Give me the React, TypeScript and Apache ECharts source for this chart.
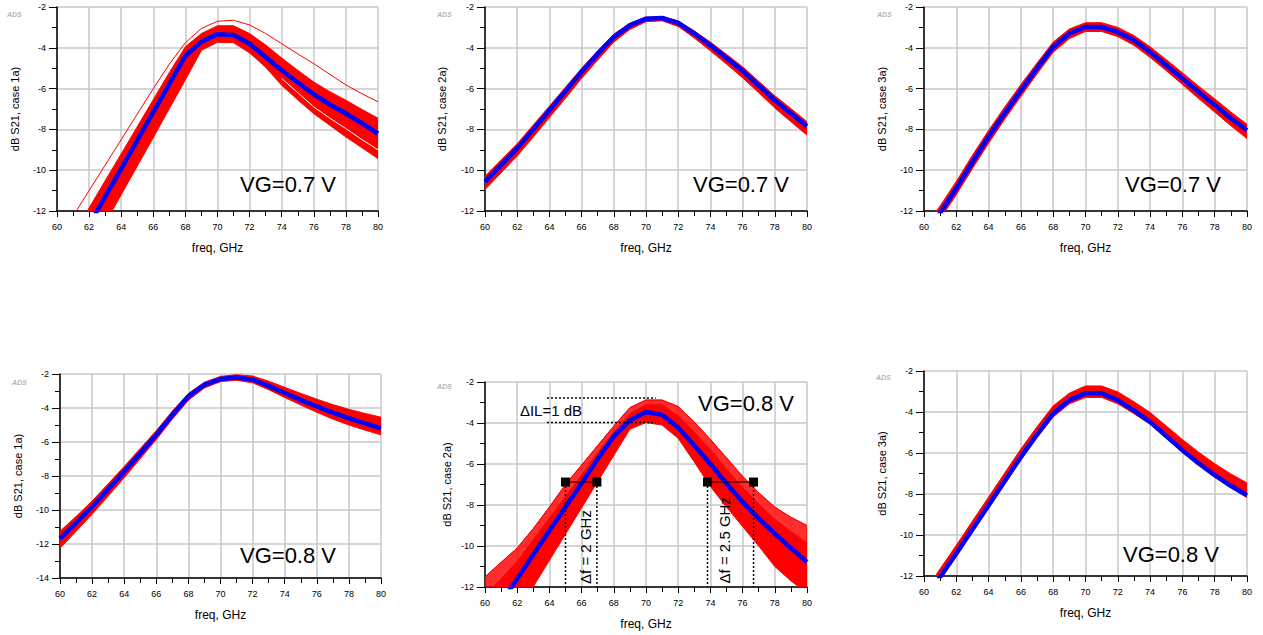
import React, { useEffect, useRef } from "react";
import * as echarts from "echarts";

// ---------------- data ----------------
const FREQ = [60, 61, 62, 63, 64, 65, 66, 67, 68, 69, 70, 71, 72, 73, 74, 75, 76, 77, 78, 79, 80];

// panel 1: case 1a, VG=0.7 V
const P1_BLUE = [-15.5, -14.1, -12.7, -11.3, -9.93, -8.54, -7.15, -5.77, -4.4, -3.7, -3.33, -3.37, -3.8, -4.45, -5.1, -5.7, -6.28, -6.78, -7.22, -7.7, -8.2];
const P1_HIGH = [-14.5, -13.15, -11.85, -10.52, -9.2, -7.87, -6.54, -5.21, -3.95, -3.3, -2.92, -2.92, -3.3, -3.86, -4.5, -5.1, -5.68, -6.15, -6.57, -7.02, -7.45];
const P1_LOW = [-16.8, -15.4, -14.0, -12.6, -11.2, -9.8, -8.4, -6.98, -5.57, -4.12, -3.73, -3.75, -4.25, -4.95, -5.84, -6.55, -7.23, -7.8, -8.37, -8.9, -9.43];
const P1_OUTLIER = [-13.5, -12.25, -11.0, -9.75, -8.5, -7.25, -6.0, -4.8, -3.75, -3.05, -2.7, -2.65, -2.88, -3.3, -3.8, -4.3, -4.78, -5.3, -5.82, -6.25, -6.65];
const P1_GAP = [null, null, null, null, null, null, null, null, null, null, null, null, null, null, -5.5, -6.2, -6.9, -7.45, -7.96, -8.5, -9.0];

// panel 2: case 2a, VG=0.7 V
const P2_BLUE = [-10.56, -9.75, -8.93, -8.0, -7.06, -6.12, -5.18, -4.3, -3.47, -2.9, -2.57, -2.54, -2.78, -3.3, -3.88, -4.5, -5.13, -5.85, -6.57, -7.22, -7.84];
const P2_HIGH = [-10.3, -9.5, -8.7, -7.78, -6.86, -5.93, -5.0, -4.14, -3.33, -2.79, -2.5, -2.47, -2.68, -3.17, -3.72, -4.32, -4.93, -5.64, -6.35, -6.98, -7.62];
const P2_LOW = [-10.95, -10.13, -9.3, -8.37, -7.42, -6.47, -5.5, -4.6, -3.72, -3.1, -2.72, -2.68, -2.95, -3.52, -4.15, -4.8, -5.47, -6.2, -6.95, -7.62, -8.28];

// panel 3: case 3a, VG=0.7 V
const P3_BLUE = [-13.2, -12.1, -10.89, -9.6, -8.36, -7.2, -6.08, -5.0, -3.96, -3.3, -2.98, -2.98, -3.22, -3.63, -4.2, -4.85, -5.5, -6.17, -6.81, -7.45, -8.04];
const P3_HIGH = [-12.85, -11.75, -10.55, -9.27, -8.05, -6.9, -5.8, -4.74, -3.72, -3.08, -2.77, -2.77, -3.0, -3.4, -3.95, -4.58, -5.22, -5.88, -6.5, -7.15, -7.75];
const P3_LOW = [-13.5, -12.4, -11.2, -9.92, -8.68, -7.5, -6.38, -5.28, -4.22, -3.55, -3.2, -3.2, -3.45, -3.88, -4.47, -5.12, -5.8, -6.48, -7.15, -7.82, -8.45];

// panel 4: case 1a, VG=0.8 V
const P4_BLUE = [-11.68, -10.75, -9.81, -8.78, -7.74, -6.66, -5.58, -4.4, -3.32, -2.63, -2.3, -2.2, -2.33, -2.7, -3.12, -3.52, -3.91, -4.27, -4.6, -4.9, -5.19];
const P4_HIGH = [-11.25, -10.38, -9.47, -8.46, -7.44, -6.38, -5.33, -4.18, -3.14, -2.48, -2.14, -2.04, -2.12, -2.42, -2.78, -3.14, -3.48, -3.8, -4.08, -4.32, -4.54];
const P4_LOW = [-12.25, -11.25, -10.25, -9.18, -8.1, -6.98, -5.86, -4.66, -3.55, -2.82, -2.45, -2.37, -2.52, -2.92, -3.38, -3.82, -4.25, -4.65, -5.0, -5.3, -5.58];

// panel 5: case 2a, VG=0.8 V
const P5_BLUE = [-13.9, -12.75, -11.6, -10.42, -9.25, -8.1, -6.94, -5.75, -4.65, -3.87, -3.46, -3.6, -4.22, -5.1, -6.0, -6.95, -7.85, -8.65, -9.4, -10.1, -10.78];
const P5_HIGH = [-12.4, -11.6, -10.75, -9.7, -8.65, -7.6, -6.55, -5.45, -4.45, -3.55, -3.12, -3.12, -3.65, -4.45, -5.3, -6.25, -7.15, -7.95, -8.7, -9.3, -9.85];
const P5_LOW = [-15.8, -14.5, -13.25, -11.98, -10.7, -9.42, -8.14, -6.86, -5.58, -4.3, -3.98, -4.1, -4.75, -5.9, -7.1, -8.1, -9.05, -10.0, -11.0, -11.7, -12.3];
const P5_OUTER = [-11.5, -10.8, -10.1, -9.15, -8.1, -7.0, -6.05, -5.1, -4.15, -3.25, -2.88, -2.88, -3.2, -3.95, -4.8, -5.7, -6.6, -7.4, -8.1, -8.6, -9.0];

// panel 6: case 3a, VG=0.8 V
const P6_BLUE = [-13.2, -12.05, -10.9, -9.72, -8.55, -7.37, -6.19, -5.1, -4.07, -3.42, -3.09, -3.09, -3.42, -3.93, -4.48, -5.17, -5.86, -6.5, -7.08, -7.6, -8.06];
const P6_HIGH = [-12.8, -11.65, -10.5, -9.32, -8.15, -6.97, -5.8, -4.72, -3.7, -3.08, -2.73, -2.73, -3.02, -3.5, -4.02, -4.68, -5.34, -5.96, -6.52, -7.02, -7.46];
const P6_LOW = [-13.35, -12.2, -11.05, -9.88, -8.7, -7.52, -6.34, -5.25, -4.24, -3.6, -3.29, -3.29, -3.6, -4.08, -4.6, -5.28, -5.97, -6.6, -7.18, -7.7, -8.17];

// panel 5 annotations
const P5_IL_LEVELS = [-2.78, -3.98];
const P5_IL_SPAN = [63.85, 70.6];
const P5_MARK_LEVEL = -6.88;
const P5_MARKS_LEFT = [65.0, 66.95];
const P5_MARKS_RIGHT = [73.82, 76.68];
const P5_TEXT_IL = { text: "\u0394IL=1 dB", f: 64.1, v: -3.41 };
const P5_TEXT_DF1 = { text: "\u0394f = 2 GHz", f: 66.22, v: -10.05 };
const P5_TEXT_DF2 = { text: "\u0394f = 2.5 GHz", f: 74.86, v: -9.72 };

// labels / axes
const Y_NAMES = ["dB S21, case 1a)", "dB S21, case 2a)", "dB S21, case 3a)", "dB S21, case 1a)", "dB S21, case 2a)", "dB S21, case 3a)"];
const VG_LABELS = ["VG=0.7 V", "VG=0.7 V", "VG=0.7 V", "VG=0.8 V", "VG=0.8 V", "VG=0.8 V"];
const X_NAME = "freq, GHz";
const X_MIN = 60;
const X_MAX = 80;
const Y_MAX = -2;
const Y_MINS = [-12, -12, -12, -14, -12, -12];
const AXIS_STEP = 2;

// ---------------- layout / style ----------------
const W = 1263;
const H = 635;
const FONT = '"Liberation Sans", Arial, Helvetica, sans-serif';
const RED = "#ff0000";
const BLUE = "#0000ff";
const GRID_COLOR = "#c8c8c8";

const GRIDS = [
  { left: 57, top: 7, width: 321, height: 204 },
  { left: 485, top: 7, width: 322, height: 204 },
  { left: 924, top: 7, width: 323, height: 204 },
  { left: 60, top: 374, width: 321, height: 204 },
  { left: 485, top: 382, width: 322, height: 205 },
  { left: 924, top: 371, width: 323, height: 205 },
];
const Y_NAME_GAPS = [37, 38, 37, 37, 33, 37];
const VG_POS = [
  [240, 184],
  [693, 184],
  [1125, 184],
  [240, 555],
  [698, 403],
  [1123, 554],
];
const ADS_POS = [
  [7, 14],
  [437, 14],
  [877, 14],
  [12, 382],
  [437, 386],
  [876, 377],
];

// ---------------- helpers ----------------
function xy(ys: (number | null)[]) {
  return FREQ.map((f, i) => [f, ys[i] === null ? "-" : ys[i]]);
}

function bandSeries(i: number, upper: number[], lower: number[], opacity: number) {
  return {
    type: "custom",
    xAxisIndex: i,
    yAxisIndex: i,
    silent: true,
    clip: true,
    z: 2,
    data: [[FREQ[0], upper[0]]],
    renderItem: (params: any, api: any) => {
      const top = FREQ.map((f, k) => api.coord([f, upper[k]]));
      const bot = FREQ.map((f, k) => api.coord([f, lower[k]])).reverse();
      const cs = params.coordSys;
      return {
        type: "polygon",
        shape: { points: top.concat(bot) },
        style: { fill: RED, stroke: RED, lineWidth: 1, opacity },
        clipPath: { type: "rect", shape: { x: cs.x, y: cs.y, width: cs.width, height: cs.height } },
      };
    },
  };
}

function lineSeries(i: number, ys: (number | null)[], color: string, width: number, z: number) {
  return {
    type: "line",
    xAxisIndex: i,
    yAxisIndex: i,
    data: xy(ys),
    symbol: "none",
    silent: true,
    clip: true,
    z,
    lineStyle: { color, width },
  };
}

function segSeries(i: number, pts: number[][], dotted: boolean, width: number) {
  return {
    type: "line",
    xAxisIndex: i,
    yAxisIndex: i,
    data: pts,
    symbol: "none",
    silent: true,
    z: 5,
    lineStyle: { color: "#000", width, type: dotted ? [2, 2] : "solid" },
  };
}

function textSeries(i: number, t: { text: string; f: number; v: number }, rotate: number) {
  return {
    type: "scatter",
    xAxisIndex: i,
    yAxisIndex: i,
    silent: true,
    z: 6,
    symbolSize: 1,
    itemStyle: { color: "rgba(0,0,0,0)", opacity: 1 },
    data: [[t.f, t.v]],
    label: {
      show: true,
      position: "inside",
      rotate,
      formatter: t.text,
      fontSize: 15,
      color: "#000",
      opacity: 1,
      fontFamily: FONT,
    },
  };
}

export default function App() {
  const ref = useRef<HTMLDivElement>(null);

  useEffect(() => {
    document.body.style.margin = "0";
    if (!ref.current) return;
    const chart = echarts.init(ref.current, undefined, { renderer: "svg" });

    const bands = [
      { high: P1_HIGH, low: P1_LOW },
      { high: P2_HIGH, low: P2_LOW },
      { high: P3_HIGH, low: P3_LOW },
      { high: P4_HIGH, low: P4_LOW },
      { high: P5_HIGH, low: P5_LOW },
      { high: P6_HIGH, low: P6_LOW },
    ];
    const blues = [P1_BLUE, P2_BLUE, P3_BLUE, P4_BLUE, P5_BLUE, P6_BLUE];

    const series: any[] = [];
    bands.forEach((b, i) => series.push(bandSeries(i, b.high, b.low, 1)));
    series.push(bandSeries(4, P5_OUTER, P5_HIGH, 0.82));
    series.push(lineSeries(4, P5_OUTER, RED, 1, 3));
    series.push(lineSeries(0, P1_OUTLIER, RED, 1, 3));
    series.push(lineSeries(0, P1_GAP, "#ffffff", 1, 3));
    blues.forEach((b, i) => series.push(lineSeries(i, b, BLUE, 4.5, 4)));

    // panel 5 annotations
    P5_IL_LEVELS.forEach((lv) =>
      series.push(segSeries(4, [[P5_IL_SPAN[0], lv], [P5_IL_SPAN[1], lv]], true, 1.5))
    );
    [P5_MARKS_LEFT, P5_MARKS_RIGHT].forEach((pair) => {
      series.push(segSeries(4, [[pair[0], P5_MARK_LEVEL], [pair[1], P5_MARK_LEVEL]], false, 1));
      pair.forEach((f) =>
        series.push(segSeries(4, [[f, P5_MARK_LEVEL], [f, Y_MINS[4]]], true, 1.5))
      );
    });
    series.push({
      type: "scatter",
      xAxisIndex: 4,
      yAxisIndex: 4,
      silent: true,
      z: 6,
      symbol: "rect",
      symbolSize: 9,
      itemStyle: { color: "#000", opacity: 1 },
      data: P5_MARKS_LEFT.concat(P5_MARKS_RIGHT).map((f) => [f, P5_MARK_LEVEL]),
    });
    series.push(textSeries(4, P5_TEXT_IL, 0));
    series.push(textSeries(4, P5_TEXT_DF1, 90));
    series.push(textSeries(4, P5_TEXT_DF2, 90));

    const graphic: any[] = [];
    VG_LABELS.forEach((t, i) =>
      graphic.push({
        type: "text",
        z: 10,
        silent: true,
        style: {
          text: t,
          x: VG_POS[i][0],
          y: VG_POS[i][1],
          fontSize: 22,
          fontFamily: FONT,
          fill: "#000",
          align: "left",
          verticalAlign: "middle",
        },
      })
    );
    ADS_POS.forEach((p) =>
      graphic.push({
        type: "text",
        z: 10,
        silent: true,
        style: {
          text: "ADS",
          x: p[0],
          y: p[1],
          fontSize: 7,
          fontStyle: "italic",
          fontWeight: "bold",
          fontFamily: FONT,
          fill: "#b4b4b4",
          verticalAlign: "middle",
        },
      })
    );

    const option: any = {
      animation: false,
      backgroundColor: "#ffffff",
      textStyle: { fontFamily: FONT },
      grid: GRIDS.map((g) => ({ ...g, containLabel: false })),
      xAxis: GRIDS.map((_, i) => ({
        gridIndex: i,
        type: "value",
        min: X_MIN,
        max: X_MAX,
        interval: AXIS_STEP,
        name: X_NAME,
        nameLocation: "middle",
        nameGap: 31,
        nameTextStyle: { fontSize: 12, color: "#000", fontFamily: FONT },
        axisLine: { show: true, onZero: false, lineStyle: { color: "#000", width: 1.5 } },
        axisTick: { show: true, inside: false, length: 6, lineStyle: { color: "#000", width: 1 } },
        minorTick: { show: true, splitNumber: 2, length: 5, lineStyle: { color: "#000", width: 1 } },
        splitLine: { show: true, lineStyle: { color: GRID_COLOR, width: 1.5 } },
        axisLabel: { fontSize: 9, color: "#000", margin: 11, fontFamily: FONT },
      })),
      yAxis: GRIDS.map((_, i) => ({
        gridIndex: i,
        type: "value",
        min: Y_MINS[i],
        max: Y_MAX,
        interval: AXIS_STEP,
        name: Y_NAMES[i],
        nameLocation: "middle",
        nameGap: Y_NAME_GAPS[i],
        nameRotate: 90,
        nameTextStyle: { fontSize: 11, color: "#000", fontFamily: FONT },
        axisLine: { show: true, onZero: false, lineStyle: { color: "#000", width: 1.5 } },
        axisTick: { show: true, inside: false, length: 8, lineStyle: { color: "#000", width: 1 } },
        minorTick: { show: true, splitNumber: 2, length: 5, lineStyle: { color: "#000", width: 1 } },
        splitLine: { show: true, lineStyle: { color: GRID_COLOR, width: 1.5 } },
        axisLabel: { fontSize: 9, color: "#000", margin: 11, fontFamily: FONT },
      })),
      series,
      graphic,
    };

    chart.setOption(option);
    return () => chart.dispose();
  }, []);

  return <div ref={ref} style={{ width: W, height: H }} />;
}
